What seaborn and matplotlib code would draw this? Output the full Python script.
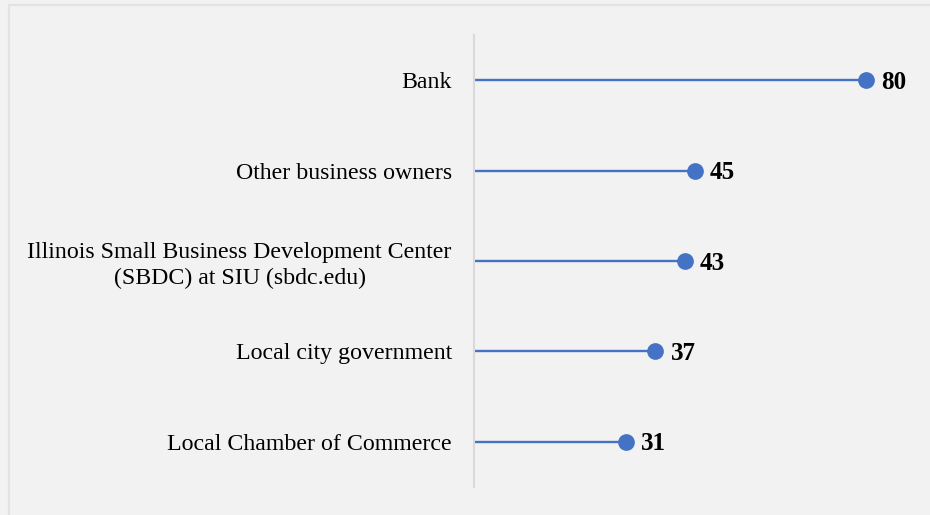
import numpy as np
import pandas as pd
import seaborn as sns
import matplotlib.pyplot as plt
from matplotlib.patches import Rectangle

# source of advice
sources = ["Bank",
           "Other business owners",
           "Illinois Small Business Development Center\n(SBDC) at SIU (sbdc.edu)",
           "Local city government",
           "Local Chamber of Commerce"]
counts = [80, 45, 43, 37, 31]

df = pd.DataFrame({"source": sources, "count": counts})

sns.set_style("white")
plt.rcParams['font.family'] = ['Liberation Serif', 'DejaVu Serif']

bg = "#f2f2f2"
blue = "#4472c4"

fig = plt.figure(figsize=(9.3, 5.15), dpi=100, facecolor=bg)
ax = fig.add_axes([474/930, 1 - 487/515, 441/930, 452/515])
ax.set_facecolor(bg)

# outer frame
fig.patches.append(Rectangle((9/930, -0.05), 1.0, 1 - 5/515 + 0.05,
                             transform=fig.transFigure, fill=False,
                             edgecolor="#e3e3e3", linewidth=1.6))

ypos = np.arange(len(df))
ax.hlines(ypos, 0, df["count"], color=blue, linewidth=1.7, zorder=2)
sns.scatterplot(x=df["count"], y=ypos, ax=ax, color=blue, s=145,
                edgecolor=blue, linewidth=0, zorder=3, legend=False)

for y, v in zip(ypos, df["count"]):
    ax.annotate(str(v), (v, y), xytext=(11, -1.5), textcoords="offset points",
                va="center", ha="left", fontsize=18, fontweight="bold",
                color="black")

ax.set_xlim(0, 90)
ax.set_ylim(len(df) - 0.5, -0.5)
ax.set_yticks(ypos)
ax.set_yticklabels(df["source"], fontsize=17.2, color="#000000",
                   multialignment="center", linespacing=1.25)
ax.tick_params(axis="y", length=0, pad=16)
ax.set_xticks([])
ax.set_xlabel("")
ax.set_ylabel("")

for s in ["top", "right", "bottom"]:
    ax.spines[s].set_visible(False)
ax.spines["left"].set_color("#d9d9d9")
ax.spines["left"].set_linewidth(1.5)

fig.savefig("out.png", dpi=100, facecolor=bg)
